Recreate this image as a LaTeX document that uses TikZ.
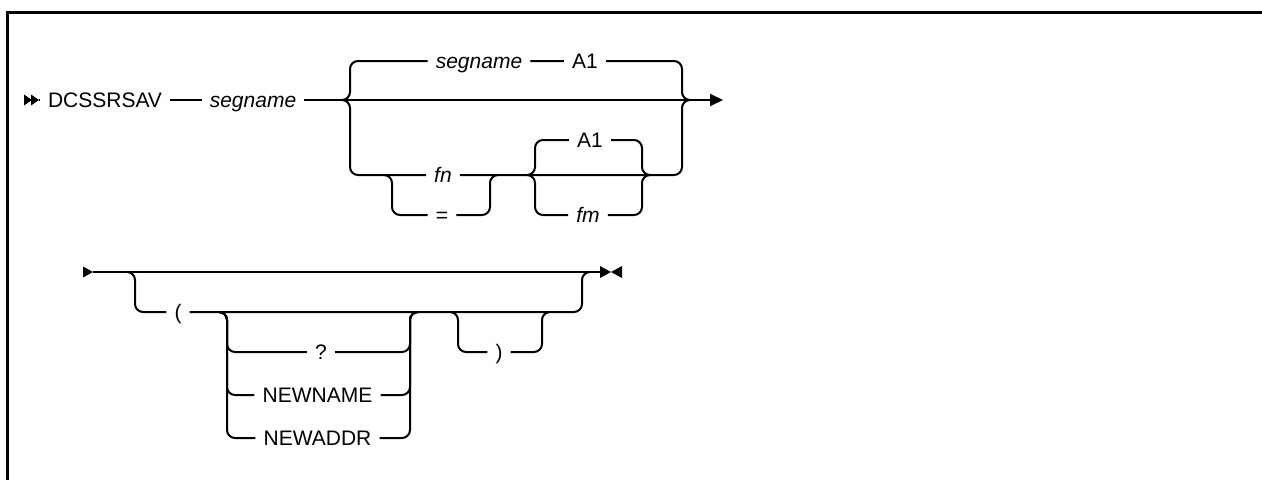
\documentclass[tikz,border=0pt]{standalone}
\usepackage{fontspec}
\setmainfont{Liberation Sans}
\usetikzlibrary{arrows.meta}
\tikzset{
  rail/.style  = {line width=2pt,rounded corners=8pt},
  kw/.style    = {font=\fontsize{21}{25}\selectfont,inner sep=0pt,inner xsep=8pt,
                  text height=15pt,text depth=0pt},
  var/.style   = {kw,font=\fontsize{21}{25}\selectfont\itshape},
  frame/.style = {line width=3pt}
}

\begin{document}
\begin{tikzpicture}[x=1pt,y=-1pt]
  \useasboundingbox (0,0) rectangle (1262,480);
  \draw[frame] (7.5,480) -- (7.5,12.5) -- (1262,12.5);

  % first line
  \fill (24,94.5) -- (32,100) -- (24,105.5) -- cycle;
  \fill (31,94.5) -- (39,100) -- (31,105.5) -- cycle;
  \coordinate (begin) at (39,100);
  \coordinate (end)   at (723,100);
  \node[kw]  (cmd)  at (105,100) {DCSSRSAV};
  \node[var] (seg)  at (253,100) {segname};
  \node[var] (seg2) at (479,61)  {segname};
  \node[kw]  (aone) at (585,61)  {A1};
  \node[var] (fn)   at (443,175) {fn};
  \node[kw]  (eq)   at (442,215) {=};
  \node[kw]  (atwo) at (590,140) {A1};
  \node[var] (fm)   at (588,215) {fm};
  \coordinate (j1in) at (342,100); \coordinate (j1) at (350,100);
  \coordinate (j2in) at (384,175); \coordinate (j2) at (392,175);
  \coordinate (m2)   at (490,175); \coordinate (m2out) at (498,175);
  \coordinate (j3in) at (527,175); \coordinate (j3) at (535,175);
  \coordinate (m3)   at (642,175); \coordinate (m3out) at (650,175);
  \coordinate (k1)   at (682,100); \coordinate (k1out) at (690,100);
  \draw[rail] (begin) -- (cmd) -- (seg);
  \draw[rail,-{Triangle[length=13pt,width=12pt]}] (seg) -- (end);
  \draw[rail] (j1in) -| (j1 |- seg2) -- (seg2) -- (aone) -| (k1) -- (k1out);
  \draw[rail] (j1in) -| (j1 |- fn) -- (fn) -| (k1) -- (k1out);
  \draw[rail] (j2in) -| (j2 |- eq) -- (eq) -| (m2) -- (m2out);
  \draw[rail] (j3in) -| (j3 |- atwo) -- (atwo) -| (m3) -- (m3out);
  \draw[rail] (j3in) -| (j3 |- fm) -- (fm) -| (m3) -- (m3out);

  % second line
  \fill (83,266.5) -- (93,272) -- (83,277.5) -- cycle;
  \fill (600,266) -- (611,272) -- (600,278) -- cycle;
  \fill (622,266) -- (611,272) -- (622,278) -- cycle;
  \coordinate (begin2) at (93,272);
  \coordinate (end2)   at (600,272);
  \node[kw] (lpar)  at (178,312)   {(};
  \node[kw] (qmark) at (321,352)   {?};
  \node[kw] (nname) at (317.5,395) {NEWNAME};
  \node[kw] (naddr) at (317.5,438) {NEWADDR};
  \node[kw] (rpar)  at (499,352)   {)};
  \coordinate (j4in) at (127,272); \coordinate (j4) at (135,272);
  \coordinate (j5in) at (219,312); \coordinate (j5) at (227,312);
  \coordinate (m5)   at (410,312); \coordinate (m5out) at (418,312);
  \coordinate (j6in) at (450,312); \coordinate (j6) at (458,312);
  \coordinate (m7)   at (542,312); \coordinate (m7out) at (550,312);
  \coordinate (m6)   at (582,272); \coordinate (m6out) at (590,272);
  \draw[rail] (begin2) -- (end2);
  \draw[rail] (j4in) -| (j4 |- lpar) -- (lpar) -| (m6) -- (m6out);
  \draw[rail] (j5in) -| (j5 |- qmark) -- (qmark) -| (m5) -- (m5out);
  \draw[rail] (j5in) -| (j5 |- nname) -- (nname) -| (m5) -- (m5out);
  \draw[rail] (j5in) -| (j5 |- naddr) -- (naddr) -| (m5) -- (m5out);
  \draw[rail] (j6in) -| (j6 |- rpar) -- (rpar) -| (m7) -- (m7out);
\end{tikzpicture}
\end{document}
